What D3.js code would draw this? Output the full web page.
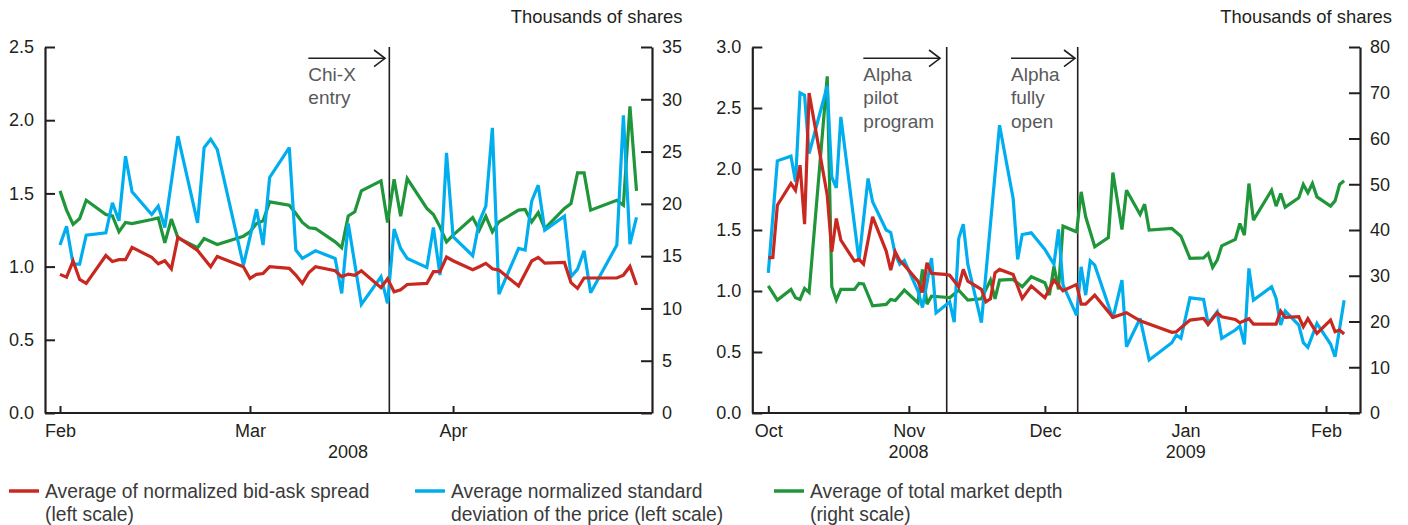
<!DOCTYPE html>
<html><head><meta charset="utf-8">
<script src="https://cdn.jsdelivr.net/npm/d3@7"></script>
<style>
body{margin:0;background:#fff;}
svg text{font-family:"Liberation Sans",Arial,Helvetica,sans-serif;}
</style></head><body>
<svg id="c" width="1408" height="525"></svg>
<script>
// ---------- DATA ----------
// Left panel: [day offset from 1 Feb 2008, value]
const febSpread = [[0,.947],[1,.928],[2,1.038],[3,.912],[4,.885],[7,1.076],[8,1.035],[9,1.047],[10,1.047],[11,1.131],[14,1.063],[15,1.019],[16,1.040],[17,.985],[18,1.201],[21,1.110],[23,.999],[24,1.069],[28,.999],[29,.919],[30,.947],[31,.953],[32,.999],[35,.988],[36,.942],[37,.885],[38,.960],[39,.999],[42,.972],[43,.931],[44,.949],[45,.940],[46,.972],[49,.856],[50,.917],[51,.828],[52,.842],[53,.878],[56,.885],[57,.965],[58,.965],[59,1.065],[60,1.040],[63,.978],[64,.999],[65,1.022],[66,.985],[67,.976],[70,.867],[72,1.038],[73,1.063],[74,1.024],[77,1.028],[78,.890],[79,.851],[80,.922],[85,.922],[86,.942],[87,1.001],[88,.874]];
const febStd = [[0,1.147],[1,1.276],[2,1.017],[3,1.017],[4,1.215],[7,1.231],[8,1.436],[9,1.313],[10,1.754],[11,1.511],[14,1.356],[15,1.413],[16,1.267],[18,1.891],[21,1.299],[22,1.813],[23,1.870],[24,1.800],[28,1.010],[30,1.392],[31,1.147],[32,1.609],[35,1.813],[36,1.113],[37,1.056],[39,1.108],[42,1.056],[43,.817],[44,1.295],[46,.742],[49,.931],[50,.749],[51,1.256],[52,1.124],[53,1.056],[56,.994],[57,1.267],[58,.942],[59,1.777],[60,1.204],[63,1.074],[64,1.306],[65,1.413],[66,1.948],[67,.812],[70,1.124],[71,1.113],[72,1.447],[73,1.556],[74,1.249],[77,1.345],[78,.931],[79,.983],[80,1.108],[81,.821],[85,1.147],[86,2.034],[87,1.154],[88,1.336]];
const febDepth = [[0,21.24],[1,19.40],[2,18.03],[3,18.60],[4,20.35],[7,18.98],[8,18.85],[9,17.33],[10,18.22],[11,18.12],[14,18.50],[15,18.66],[16,16.27],[17,18.54],[18,16.75],[21,15.80],[22,16.69],[24,16.12],[28,16.91],[29,17.33],[30,18.12],[31,18.38],[32,20.19],[35,19.87],[36,19.08],[37,18.22],[38,17.71],[39,17.64],[42,16.37],[43,15.80],[44,18.85],[45,19.24],[46,21.24],[49,22.20],[50,18.22],[51,22.36],[52,18.82],[53,22.42],[56,19.56],[57,18.98],[58,17.80],[59,16.37],[60,17.01],[63,18.70],[64,17.49],[65,18.82],[66,17.33],[67,18.28],[70,19.40],[71,19.46],[72,18.28],[73,19.17],[74,17.64],[77,19.56],[78,20.03],[79,22.96],[80,22.96],[81,19.40],[85,20.35],[86,19.87],[87,29.33],[88,21.24]];

// Right panel: [day offset from 1 Oct 2008, value]
const octSpread = [[0,1.272],[1,1.275],[2,1.703],[5,1.881],[6,1.826],[7,2.031],[8,1.548],[9,2.623],[13,1.785],[14,1.321],[15,1.594],[16,1.417],[19,1.245],[20,1.259],[21,1.220],[23,1.608],[26,1.327],[27,1.171],[28,1.321],[29,1.248],[30,1.212],[33,1.081],[34,.988],[35,1.231],[36,1.144],[39,1.136],[40,1.130],[42,1.035],[43,1.177],[44,1.081],[47,1.013],[48,.912],[49,.936],[50,1.149],[51,1.177],[54,1.136],[56,.939],[58,1.040],[61,.945],[63,1.089],[65,1.002],[68,1.054],[69,.893],[70,.893],[72,.966],[76,.784],[79,.822],[82,.756],[89,.661],[90,.666],[93,.762],[96,.775],[97,.726],[99,.822],[100,.789],[103,.767],[104,.740],[106,.773],[107,.729],[112,.729],[113,.835],[114,.784],[117,.789],[118,.707],[119,.773],[121,.652],[124,.762],[125,.666],[126,.680],[127,.647]];
const octStd = [[0,1.149],[2,2.067],[5,2.105],[6,1.895],[7,2.624],[8,2.604],[9,2.127],[13,2.681],[14,1.936],[15,1.845],[16,2.427],[20,1.25],[22,1.922],[23,1.731],[26,1.50],[27,1.48],[28,1.30],[29,1.22],[30,1.25],[33,1.00],[34,.865],[36,1.27],[37,.82],[40,.91],[41,.745],[42,1.43],[43,1.548],[44,1.22],[47,.74],[51,2.359],[54,1.758],[55,1.259],[56,1.463],[58,1.477],[61,1.34],[62,1.28],[63,1.22],[64,1.505],[65,1.05],[68,.80],[69,1.198],[70,.966],[71,1.248],[72,1.212],[76,.775],[78,1.089],[79,.543],[82,.775],[84,.434],[89,.576],[90,.639],[91,.612],[93,.944],[96,.931],[97,.734],[99,.83],[100,.612],[103,.68],[104,.713],[105,.562],[106,1.185],[107,.925],[111,1.035],[112,.939],[113,.721],[114,.835],[117,.721],[118,.576],[119,.538],[121,.734],[124,.565],[125,.461],[127,.925]];
const octDepth = [[0,27.81],[2,24.68],[5,27.01],[6,25.19],[7,24.82],[8,27.23],[9,26.35],[13,73.6],[14,27.59],[15,24.68],[16,27.01],[19,27.01],[20,28.32],[21,28.2],[23,23.44],[26,23.73],[27,24.82],[28,24.6],[30,26.86],[33,24.09],[34,31.38],[35,23.8],[36,25.55],[39,25.3],[40,25.19],[42,26.86],[44,24.68],[47,24.97],[49,29.05],[50,24.97],[51,29.05],[54,29.19],[56,27.59],[58,29.77],[61,28.46],[62,25.77],[63,32.1],[64,27.0],[65,40.84],[68,39.6],[69,48.34],[70,42.88],[72,36.33],[75,38.36],[76,52.56],[78,40.11],[79,48.7],[82,43.39],[83,45.64],[84,39.97],[89,40.33],[91,38.65],[93,33.78],[96,33.9],[97,34.87],[98,31.81],[99,33.4],[100,36.54],[103,37.93],[104,41.42],[105,38.87],[106,50.16],[107,42.15],[111,48.7],[112,45.21],[113,47.97],[114,45.0],[117,47.03],[118,49.94],[119,48.12],[120,50.16],[121,47.24],[124,45.21],[125,46.37],[126,49.94],[127,50.74]];

const leftTicksL = [0, 0.5, 1.0, 1.5, 2.0, 2.5];
const leftTicksR = [0, 5, 10, 15, 20, 25, 30, 35];
const rightTicksL = [0, 0.5, 1.0, 1.5, 2.0, 2.5, 3.0];
const rightTicksR = [0, 10, 20, 30, 40, 50, 60, 70, 80];
const monthsLeft = [new Date(2008,1,1), new Date(2008,2,1), new Date(2008,3,1)];
const monthsRight = [new Date(2008,9,1), new Date(2008,10,1), new Date(2008,11,1), new Date(2009,0,1), new Date(2009,1,1)];
const eventsLeft = [{date:new Date(2008,2,22,6,30), lines:["Chi-X","entry"]}];
const eventsRight = [{date:new Date(2008,10,9,8,24), lines:["Alpha","pilot","program"]},
                     {date:new Date(2008,11,8,5,45), lines:["Alpha","fully","open"]}];
const legendItems = [
  {color:"#c8281f", lines:["Average of normalized bid-ask spread","(left scale)"]},
  {color:"#00aeef", lines:["Average normalized standard","deviation of the price (left scale)"]},
  {color:"#1f963a", lines:["Average of total market depth","(right scale)"]}
];

// ---------- DRAW ----------
const svg = d3.select('#c');
const AX = '#231f20', NOTE = '#58595b';
const TOP = 47, BOT = 413;

function drawPanel(p) {
  const g = svg.append('g');
  const yL = d3.scaleLinear().domain(p.yLdom).range([BOT, TOP]);
  const yR = d3.scaleLinear().domain(p.yRdom).range([BOT, TOP]);
  const x = p.x;
  const dt = d => d3.timeDay.offset(p.base, d);

  // event lines with arrows and labels
  p.events.forEach((ev, k) => {
    const ex = x(ev.date);
    const lay = p.eventLayout[k];
    g.append('line').attr('x1', ex).attr('x2', ex).attr('y1', TOP).attr('y2', BOT)
      .attr('stroke', AX).attr('stroke-width', 1.6);
    const sx = ex - lay.len, tip = ex - lay.gap;
    g.append('line').attr('x1', sx).attr('x2', tip).attr('y1', 58.3).attr('y2', 58.3)
      .attr('stroke', AX).attr('stroke-width', 1.6);
    g.append('path').attr('d', `M${tip-11},50 L${tip},58.3 L${tip-11},66.6`)
      .attr('fill', 'none').attr('stroke', AX).attr('stroke-width', 1.6);
    ev.lines.forEach((t, i) => {
      g.append('text').attr('x', sx).attr('y', 80.5 + i * 23.5).text(t)
        .attr('fill', NOTE).style('font-size', '19px');
    });
  });

  // series
  const line = yS => d3.line().x(d => x(dt(d[0]))).y(d => yS(d[1]));
  const series = [
    {data: p.depth, y: yR, c: '#1f963a'},
    {data: p.std, y: yL, c: '#00aeef'},
    {data: p.spread, y: yL, c: '#c8281f'}
  ];
  series.forEach(s => {
    g.append('path').datum(s.data).attr('d', line(s.y))
      .attr('fill', 'none').attr('stroke', s.c).attr('stroke-width', 3.2)
      .attr('stroke-linejoin', 'miter').attr('stroke-miterlimit', 3);
  });

  // axes
  const ax1 = g.append('g').attr('transform', `translate(${p.axL},0)`)
    .call(d3.axisLeft(yL).tickValues(p.ticksL).tickFormat(d3.format('.1f')).tickSize(-10).tickSizeOuter(0).tickPadding(11));
  const ax2 = g.append('g').attr('transform', `translate(${p.axR},0)`)
    .call(d3.axisRight(yR).tickValues(p.ticksR).tickFormat(d3.format('d')).tickSize(-11).tickSizeOuter(0).tickPadding(10));
  const ax3 = g.append('g').attr('transform', `translate(0,${BOT})`)
    .call(d3.axisBottom(x).tickValues(p.months).tickFormat(d3.timeFormat('%b')).tickSize(-7).tickSizeOuter(0).tickPadding(11));
  ax3.select('.domain').remove();
  g.append('line').attr('x1', p.axL).attr('x2', p.axR).attr('y1', BOT).attr('y2', BOT)
    .attr('stroke', AX).attr('stroke-width', 2.2);
  [ax1, ax2, ax3].forEach(a => {
    a.selectAll('path.domain').attr('stroke', AX).attr('stroke-width', 2.2);
    a.selectAll('.tick line').attr('stroke', AX).attr('stroke-width', 2);
    a.selectAll('.tick text').attr('fill', AX).style('font-size', '18px')
      .style('font-family', '"Liberation Sans",Arial,Helvetica,sans-serif');
  });
  p.years.forEach(yv => {
    g.append('text').attr('x', yv.x).attr('y', 458).attr('text-anchor', 'middle')
      .attr('fill', AX).style('font-size', '18px').text(yv.t);
  });
  g.append('text').attr('x', p.unitX).attr('y', 22.5).attr('text-anchor', 'end')
    .attr('fill', AX).style('font-size', '18.4px').text('Thousands of shares');
}

drawPanel({
  base: new Date(2008,1,1),
  x: d3.scaleTime().domain([new Date(2008,1,1), new Date(2008,4,1)]).range([60, 649.6]),
  yLdom: [0, 2.5], yRdom: [0, 35], ticksL: leftTicksL, ticksR: leftTicksR,
  axL: 45, axR: 652, months: monthsLeft, events: eventsLeft,
  eventLayout: [{len: 81, gap: 4.3}],
  spread: febSpread, std: febStd, depth: febDepth,
  years: [{x: 348, t: '2008'}], unitX: 682.5
});
drawPanel({
  base: new Date(2008,9,1),
  x: d3.scaleTime().domain([new Date(2008,9,1), new Date(2009,1,1)]).range([768.3, 1326]),
  yLdom: [0, 3], yRdom: [0, 80], ticksL: rightTicksL, ticksR: rightTicksR,
  axL: 752.3, axR: 1360, months: monthsRight, events: eventsRight,
  eventLayout: [{len: 83.4, gap: 6.7}, {len: 66.7, gap: 2.7}],
  spread: octSpread, std: octStd, depth: octDepth,
  years: [{x: 908.5, t: '2008'}, {x: 1185.7, t: '2009'}], unitX: 1392
});

// legend
const legX = [9, 415, 774];
const lg = svg.append('g');
legendItems.forEach((it, i) => {
  lg.append('line').attr('x1', legX[i]).attr('x2', legX[i] + 30).attr('y1', 491).attr('y2', 491)
    .attr('stroke', it.color).attr('stroke-width', 3.5);
  it.lines.forEach((t, j) => {
    lg.append('text').attr('x', legX[i] + 36).attr('y', 497.5 + j * 23).text(t)
      .attr('fill', '#3a3a3a').style('font-size', '19.3px');
  });
});
</script>
</body></html>
